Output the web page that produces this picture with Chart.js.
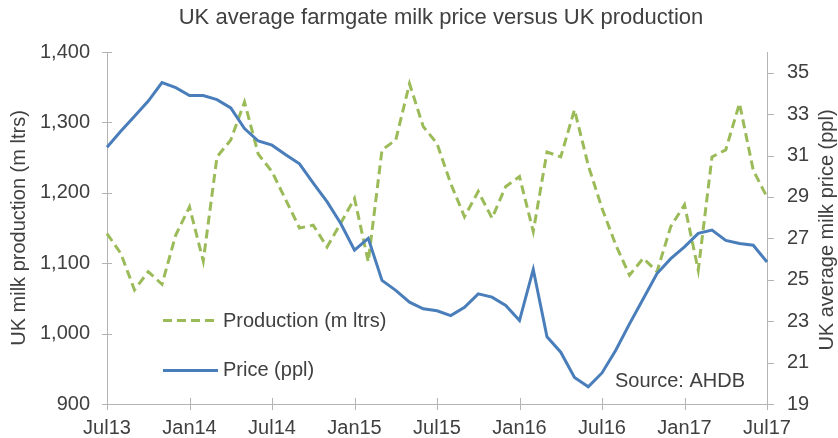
<!DOCTYPE html>
<html><head><meta charset="utf-8">
<script src="https://cdn.jsdelivr.net/npm/chart.js@4.4.1/dist/chart.umd.min.js"></script>
<style>html,body{margin:0;padding:0;background:#fff}#wrap{width:838px;height:438px;position:relative}</style>
</head><body><div id="wrap"><canvas id="c" width="838" height="438"></canvas></div>
<script>
const months = ['Jul13','Aug13','Sep13','Oct13','Nov13','Dec13','Jan14','Feb14','Mar14','Apr14','May14','Jun14',
  'Jul14','Aug14','Sep14','Oct14','Nov14','Dec14','Jan15','Feb15','Mar15','Apr15','May15','Jun15',
  'Jul15','Aug15','Sep15','Oct15','Nov15','Dec15','Jan16','Feb16','Mar16','Apr16','May16','Jun16',
  'Jul16','Aug16','Sep16','Oct16','Nov16','Dec16','Jan17','Feb17','Mar17','Apr17','May17','Jun17','Jul17'];
const shownMonths = ['Jul13','Jan14','Jul14','Jan15','Jul15','Jan16','Jul16','Jan17','Jul17'];
const production = [1142,1114,1062,1088,1070,1140,1180,1103,1251,1275,1329,1255,
  1230,1190,1150,1154,1123,1157,1192,1102,1261,1275,1355,1294,
  1270,1213,1166,1202,1164,1209,1223,1145,1258,1251,1318,1239,
  1178,1126,1083,1107,1088,1152,1183,1090,1251,1261,1327,1232,1194];
const price = [31.4,32.17,32.9,33.63,34.52,34.28,33.9,33.9,33.7,33.3,32.3,31.7,
  31.5,31.04,30.6,29.67,28.77,27.72,26.43,27.0,24.97,24.49,23.92,23.6,
  23.5,23.27,23.67,24.32,24.16,23.76,23.03,25.5,22.25,21.5,20.28,19.83,
  20.5,21.6,22.87,24.08,25.3,26.02,26.59,27.24,27.4,26.9,26.75,26.67,25.86];
const leftTicks = [900,1000,1100,1200,1300,1400];
const rightTicks = [19,21,23,25,27,29,31,33,35];
const seriesNames = ['Production (m ltrs)','Price (ppl)'];
const chartTitle = 'UK average farmgate milk price versus UK production';
const leftTitle = 'UK milk production (m ltrs)';
const rightTitle = 'UK average milk price (ppl)';
const sourceNote = 'Source: AHDB';

const FONT = "'Liberation Sans', Arial, sans-serif";
const TXT = '#404040';
const AXIS = '#b3b3b3';
const GREEN = '#9bbb59';
const BLUE = '#4a7ebb';

const overlay = {
  id: 'overlay',
  afterDraw(chart) {
    const ctx = chart.ctx;
    const a = chart.chartArea;
    const x = chart.scales.x, y = chart.scales.y, y1 = chart.scales.y1;
    ctx.save();
    ctx.strokeStyle = AXIS; ctx.lineWidth = 1;
    ctx.beginPath();
    x.ticks.forEach((t, i) => { const px = Math.round(x.getPixelForTick(i)) + 0.5; ctx.moveTo(px, a.bottom - 6); ctx.lineTo(px, a.bottom + 6); });
    y.ticks.forEach((t, i) => { const py = Math.round(y.getPixelForTick(i)) + 0.5; ctx.moveTo(a.left - 5, py); ctx.lineTo(a.left + 5, py); });
    y1.ticks.forEach((t, i) => { const py = Math.round(y1.getPixelForTick(i)) + 0.5; ctx.moveTo(a.right, py); ctx.lineTo(a.right + 7, py); });
    ctx.stroke();
    ctx.fillStyle = TXT;
    ctx.textBaseline = 'middle';
    ctx.textAlign = 'center';
    ctx.font = '22px ' + FONT;
    ctx.fillText(chartTitle, 441, 18);
    ctx.font = '20px ' + FONT;
    ctx.save(); ctx.translate(19, 228); ctx.rotate(-Math.PI / 2); ctx.fillText(leftTitle, 0, 0); ctx.restore();
    ctx.save(); ctx.translate(827, 230); ctx.rotate(-Math.PI / 2); ctx.fillText(rightTitle, 0, 0); ctx.restore();
    ctx.textAlign = 'left';
    ctx.lineWidth = 3;
    ctx.strokeStyle = GREEN; ctx.setLineDash([9, 5]);
    ctx.beginPath(); ctx.moveTo(163, 320.5); ctx.lineTo(219, 320.5); ctx.stroke();
    ctx.setLineDash([]);
    ctx.strokeStyle = BLUE;
    ctx.beginPath(); ctx.moveTo(163, 370.5); ctx.lineTo(218, 370.5); ctx.stroke();
    ctx.fillText(seriesNames[0], 223, 321);
    ctx.fillText(seriesNames[1], 223, 370);
    ctx.fillText(sourceNote, 615, 381);
    ctx.restore();
  }
};

new Chart(document.getElementById('c'), {
  type: 'line',
  data: {
    labels: months,
    datasets: [
      { label: seriesNames[0], data: production, yAxisID: 'y', borderColor: GREEN, borderWidth: 3, borderDash: [9, 5], pointRadius: 0, tension: 0, fill: false, order: 2 },
      { label: seriesNames[1], data: price, yAxisID: 'y1', borderColor: BLUE, borderWidth: 3, pointRadius: 0, tension: 0, fill: false, order: 1 }
    ]
  },
  options: {
    responsive: false,
    animation: false,
    devicePixelRatio: 1,
    layout: { padding: { top: 52, left: 0, right: 0, bottom: 0 } },
    plugins: { legend: { display: false }, title: { display: false }, tooltip: { enabled: false } },
    scales: {
      x: {
        type: 'category',
        offset: false,
        grid: { display: false, drawTicks: false },
        border: { display: true, color: AXIS, width: 1 },
        afterBuildTicks: s => { s.ticks = s.ticks.filter(t => shownMonths.includes(months[t.value])); },
        afterFit: s => { s.height = 34; },
        ticks: { autoSkip: false, maxRotation: 0, minRotation: 0, padding: 12, color: TXT, font: { family: FONT, size: 20 } }
      },
      y: {
        position: 'left', min: 900, max: 1400,
        grid: { display: false, drawTicks: false },
        border: { display: true, color: AXIS, width: 1 },
        afterBuildTicks: s => { s.ticks = leftTicks.map(v => ({ value: v })); },
        afterFit: s => { s.width = 107; },
        ticks: { padding: 17, color: TXT, font: { family: FONT, size: 20 }, callback: v => v.toLocaleString('en-US') }
      },
      y1: {
        position: 'right', min: 19, max: 36,
        grid: { display: false, drawTicks: false },
        border: { display: true, color: AXIS, width: 1 },
        afterBuildTicks: s => { s.ticks = rightTicks.map(v => ({ value: v })); },
        afterFit: s => { s.width = 71; },
        ticks: { padding: 20, color: TXT, font: { family: FONT, size: 20 }, callback: v => String(v) }
      }
    }
  },
  plugins: [overlay]
});
</script>
</body></html>
